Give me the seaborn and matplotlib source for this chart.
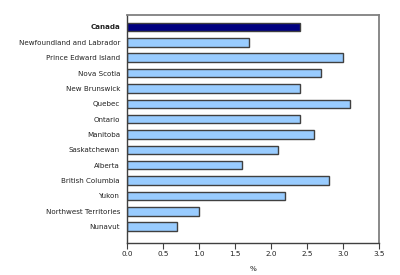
import matplotlib
matplotlib.use("Agg")
import matplotlib.pyplot as plt
import seaborn as sns
import pandas as pd

regions = ["Canada", "Newfoundland and Labrador", "Prince Edward Island", "Nova Scotia",
           "New Brunswick", "Quebec", "Ontario", "Manitoba", "Saskatchewan", "Alberta",
           "British Columbia", "Yukon", "Northwest Territories", "Nunavut"]
values = [2.4, 1.7, 3.0, 2.7, 2.4, 3.1, 2.4, 2.6, 2.1, 1.6, 2.8, 2.2, 1.0, 0.7]
groups = ["Canada"] + ["Other"] * 13
xticks = [0.0, 0.5, 1.0, 1.5, 2.0, 2.5, 3.0, 3.5]
xlabel = "%"

df = pd.DataFrame({"region": regions, "value": values, "group": groups})

sns.set_style("white")
plt.rcParams["font.family"] = ["DejaVu Sans"]

fig = plt.figure(figsize=(4.0, 2.75), dpi=100)
ax = fig.add_axes([0.3175, 0.1164, 0.63, 0.829])

sns.barplot(data=df, y="region", x="value", hue="group", order=regions,
            palette={"Canada": "#000080", "Other": "#99ccff"}, saturation=1,
            dodge=False, width=0.55, edgecolor="#404040", linewidth=1.0,
            legend=False, ax=ax)

ax.set_xlim(0, 3.5)
ax.set_ylim(14.06, -0.78)
ax.set_xticks(xticks)
ax.set_xticklabels([f"{t:.1f}" for t in xticks], fontsize=5.2, color="#222222")
ax.set_xlabel(xlabel, fontsize=5.2, color="#222222", labelpad=6)
ax.set_ylabel("")
ax.tick_params(axis="y", length=0, labelsize=5.1, labelcolor="#222222", pad=5)
ax.tick_params(axis="x", length=4, width=0.8, color="#404040", pad=2, direction="out",
               bottom=True)
for lbl in ax.get_yticklabels():
    if lbl.get_text() == "Canada":
        lbl.set_fontweight("bold")
for name, sp in ax.spines.items():
    sp.set_visible(True)
    sp.set_color("#808080")
    sp.set_linewidth(1.3)
ax.spines["left"].set_color("#404040")
ax.spines["bottom"].set_color("#404040")
ax.spines["left"].set_linewidth(1.0)
ax.spines["bottom"].set_linewidth(1.0)

fig.savefig("out.png", dpi=100)
